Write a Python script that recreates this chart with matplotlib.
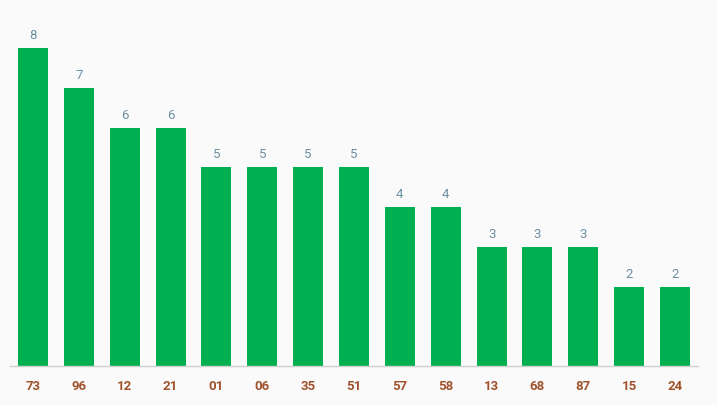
import matplotlib
matplotlib.use("Agg")
import matplotlib.pyplot as plt

categories = ["73", "96", "12", "21", "01", "06", "35", "51", "57", "58", "13", "68", "87", "15", "24"]
values = [8, 7, 6, 6, 5, 5, 5, 5, 4, 4, 3, 3, 3, 2, 2]

W, H = 717, 405
fig = plt.figure(figsize=(W / 100, H / 100), dpi=100, facecolor="#fafafa")
ax = fig.add_axes([10 / W, 1 - 366 / H, 688 / W, (366 - 48) / H])
ax.set_facecolor("#fafafa")

x = list(range(len(categories)))
bars = ax.bar(x, values, width=0.655, color="#00b050", zorder=2)
ax.set_xlim(-0.5, len(categories) - 0.5)
ax.set_ylim(0, 8)

for xi, v in zip(x, values):
    ax.text(xi, v + 0.15, str(v), ha="center", va="bottom", fontsize=9.5,
            color="#6d8fa3", family="Roboto", clip_on=False)

ax.set_xticks(x)
ax.set_xticklabels(categories, fontsize=9.5, fontweight="bold", color="#a0522d", family="Roboto")
ax.tick_params(axis="x", length=0, pad=10)
ax.set_yticks([])
for s in ["top", "right", "left"]:
    ax.spines[s].set_visible(False)
ax.spines["bottom"].set_color("#d0d0d0")
ax.spines["bottom"].set_linewidth(1)

fig.savefig("out.png", dpi=100, facecolor=fig.get_facecolor())
